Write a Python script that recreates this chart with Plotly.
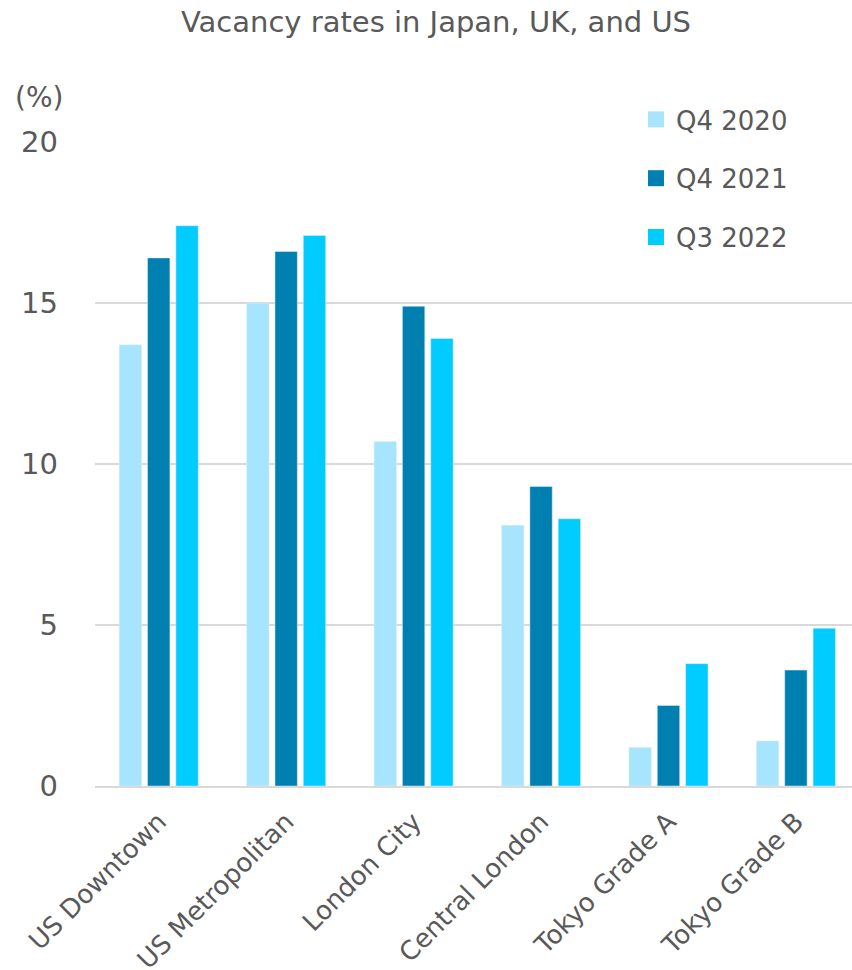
import plotly.graph_objects as go

categories = ["US Downtown", "US Metropolitan", "London City", "Central London", "Tokyo Grade A", "Tokyo Grade B"]
q4_2020 = [13.7, 15.0, 10.7, 8.1, 1.2, 1.4]
q4_2021 = [16.4, 16.6, 14.9, 9.3, 2.5, 3.6]
q3_2022 = [17.4, 17.1, 13.9, 8.3, 3.8, 4.9]
series_names = ["Q4 2020", "Q4 2021", "Q3 2022"]
colors = ["#A6E5FD", "#0080B0", "#00CCFF"]
y_ticks = [0, 5, 10, 15, 20]

FONT = "DejaVu Sans"
TXT = "#595959"
W, H = 852, 970
ML, MR, MT, MB = 95, 0, 142, 184
PW, PH = W - ML - MR, H - MT - MB

def px_to_paper(x, y):
    return (x - ML) / PW, (H - MB - y) / PH

fig = go.Figure()
for name, vals, col in zip(series_names, [q4_2020, q4_2021, q3_2022], colors):
    fig.add_trace(go.Bar(x=categories, y=vals, name=name, marker_color=col,
                         legendgroup=name, showlegend=False))
# legend entries (larger square swatches), no data of their own
for name, col in zip(series_names, colors):
    fig.add_trace(go.Scatter(x=[None], y=[None], mode="markers", name=name,
                             legendgroup=name, showlegend=True,
                             marker=dict(symbol="square", size=16, color=col)))

lx, ly = px_to_paper(636, 96)
fig.update_layout(
    width=W, height=H,
    margin=dict(l=ML, r=MR, t=MT, b=MB, autoexpand=False),
    paper_bgcolor="white", plot_bgcolor="white",
    barmode="group", bargap=0.333, bargroupgap=0.21,
    font=dict(family=FONT, color=TXT),
    title=dict(text="Vacancy rates in Japan, UK, and US", x=436 / W, y=1 - 22 / H,
               xref="container", yref="container", xanchor="center", yanchor="middle",
               font=dict(size=29, color=TXT, family=FONT)),
    legend=dict(x=lx, y=ly, xref="paper", yref="paper",
                xanchor="left", yanchor="top",
                font=dict(size=26, color=TXT, family=FONT),
                tracegroupgap=22, bgcolor="rgba(0,0,0,0)"),
)
ax, ay = px_to_paper(39, 97)
fig.add_annotation(text="(%)", x=ax, y=ay, xref="paper", yref="paper",
                   showarrow=False, xanchor="center", yanchor="middle",
                   font=dict(size=28, color=TXT, family=FONT))

fig.update_xaxes(range=[-0.5, 5.44], tickangle=-45, showline=True, linecolor="#D9D9D9",
                 linewidth=2, tickfont=dict(size=26, color=TXT, family=FONT),
                 ticks="", ticklabelstandoff=8, fixedrange=True)
fig.update_yaxes(range=[0, 20], tickvals=y_ticks, showgrid=True, gridcolor="#D9D9D9",
                 gridwidth=1.5, zeroline=False, showline=False,
                 tickfont=dict(size=29, color=TXT, family=FONT),
                 ticklabelstandoff=36, fixedrange=True)

fig.write_html("out.html", config={"displayModeBar": False},
               post_script="document.body.style.margin='0';document.body.style.padding='0';")
